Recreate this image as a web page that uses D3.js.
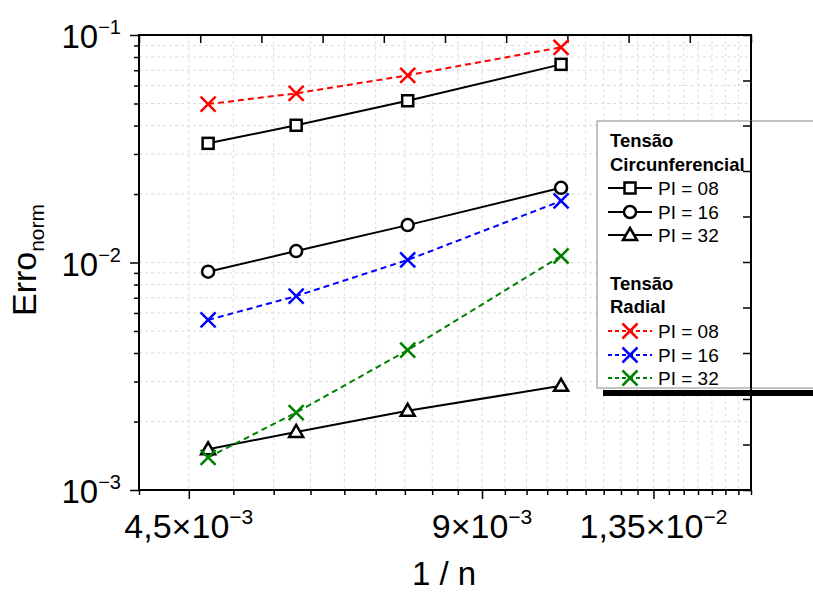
<!DOCTYPE html>
<html>
<head>
<meta charset="utf-8">
<script src="https://cdn.jsdelivr.net/npm/d3@7"></script>
<style>
  body { margin: 0; background: #fff; }
  svg { display: block; font-family: "Liberation Sans", Arial, sans-serif; }
</style>
</head>
<body>
<svg id="chart" width="813" height="592"></svg>
<script>
// data
const invN = [0.00471, 0.0058, 0.00755, 0.01085];

const circPI08 = [0.0334, 0.0401, 0.0514, 0.0743];
const circPI16 = [0.00911, 0.01123, 0.0146, 0.0213];
const circPI32 = [0.00151, 0.0018, 0.00223, 0.00287];

const radPI08 = [0.0497, 0.0554, 0.0665, 0.0883];
const radPI16 = [0.00559, 0.00712, 0.01026, 0.01864];
const radPI32 = [0.00139, 0.00219, 0.00412, 0.01068];

// tick labels
const xMajor = [0.0045, 0.009, 0.0135];
const xMajorLabels = [["4,5×10", "−3"], ["9×10", "−3"], ["1,35×10", "−2"]];
const yMajor = [0.001, 0.01, 0.1];
const yMajorLabels = [["10", "−3"], ["10", "−2"], ["10", "−1"]];

const series = [
  { name: "PI = 08", values: circPI08, color: "#000", dash: null, sym: "square" },
  { name: "PI = 16", values: circPI16, color: "#000", dash: null, sym: "circle" },
  { name: "PI = 32", values: circPI32, color: "#000", dash: null, sym: "triangle" },
  { name: "PI = 08", values: radPI08, color: "#ff0000", dash: "6,4", sym: "cross" },
  { name: "PI = 16", values: radPI16, color: "#0000ff", dash: "6,4", sym: "cross" },
  { name: "PI = 32", values: radPI32, color: "#008000", dash: "6,4", sym: "cross" }
];

const svg = d3.select("#chart");
const box = { left: 139, right: 751, top: 35, bottom: 490 };

const x = d3.scaleLog().domain([0.004, 0.017]).range([box.left, box.right]);
const y = d3.scaleLog().domain([0.001, 0.1]).range([box.bottom, box.top]);
// linked top/right axes (plain linear 0..10)
const xTop = d3.scaleLinear().domain([0, 10]).range([box.left, box.right]);
const yRight = d3.scaleLinear().domain([0, 10]).range([box.bottom, box.top]);

// minor tick positions
const xMinor = d3.range(4, 17.01, 0.5).map(v => v / 1000)
  .filter(v => !xMajor.some(m => Math.abs(m - v) < 1e-9));
const yMinor = [];
[0.001, 0.01].forEach(d => { for (let k = 2; k <= 9; k++) yMinor.push(d * k); });

// grid
const grid = svg.append("g").attr("stroke", "#dcdcdc").attr("stroke-width", 1)
  .attr("stroke-dasharray", "3,3");
grid.selectAll(".gx").data(xMinor.concat(xMajor)).join("line")
  .attr("x1", d => x(d)).attr("x2", d => x(d)).attr("y1", box.top).attr("y2", box.bottom);
grid.selectAll(".gy").data(yMinor.concat(yMajor)).join("line")
  .attr("y1", d => y(d)).attr("y2", d => y(d)).attr("x1", box.left).attr("x2", box.right);

// axes
const ax = svg.append("g");
ax.append("g").attr("transform", `translate(0,${box.bottom})`)
  .call(d3.axisBottom(x).tickValues(xMajor).tickSize(9).tickSizeOuter(0).tickFormat(""));
ax.append("g").attr("transform", `translate(0,${box.bottom})`)
  .call(d3.axisBottom(x).tickValues(xMinor).tickSize(5).tickSizeOuter(0).tickFormat(""));
ax.append("g").attr("transform", `translate(${box.left},0)`)
  .call(d3.axisLeft(y).tickValues(yMajor).tickSize(9).tickSizeOuter(0).tickFormat(""));
ax.append("g").attr("transform", `translate(${box.left},0)`)
  .call(d3.axisLeft(y).tickValues(yMinor).tickSize(5).tickSizeOuter(0).tickFormat(""));
ax.append("g").attr("transform", `translate(0,${box.top})`)
  .call(d3.axisBottom(xTop).ticks(10).tickSize(8).tickSizeOuter(0).tickFormat(""));
ax.append("g").attr("transform", `translate(${box.right},0)`)
  .call(d3.axisLeft(yRight).ticks(10).tickSize(8).tickSizeOuter(0).tickFormat(""));
ax.selectAll(".domain").remove();
ax.selectAll("line").attr("stroke", "#000").attr("stroke-width", 1.5);

// frame
svg.append("rect").attr("x", box.left).attr("y", box.top)
  .attr("width", box.right - box.left).attr("height", box.bottom - box.top)
  .attr("fill", "none").attr("stroke", "#000").attr("stroke-width", 2);

// tick labels
const xl = svg.append("g").attr("font-size", 34).attr("text-anchor", "middle");
xMajor.forEach((v, i) => {
  const t = xl.append("text").attr("x", x(v)).attr("y", 538);
  t.append("tspan").text(xMajorLabels[i][0]);
  t.append("tspan").attr("font-size", 21).attr("dy", -14).text(xMajorLabels[i][1]);
});
const yl = svg.append("g").attr("font-size", 33).attr("text-anchor", "end");
yMajor.forEach((v, i) => {
  const t = yl.append("text").attr("x", 121).attr("y", y(v) + 13);
  t.append("tspan").text(yMajorLabels[i][0]);
  t.append("tspan").attr("font-size", 20).attr("dy", -14).text(yMajorLabels[i][1]);
});

// axis titles
svg.append("text").attr("x", 444).attr("y", 585).attr("text-anchor", "middle")
  .attr("font-size", 33).text("1 / n");
const yt = svg.append("text").attr("transform", "translate(36,260) rotate(-90)")
  .attr("text-anchor", "middle").attr("font-size", 34);
yt.append("tspan").text("Erro");
yt.append("tspan").attr("font-size", 21).attr("dy", 8).text("norm");

// symbols
function drawSym(g, sym, cx, cy, color) {
  if (sym === "square") {
    g.append("rect").attr("x", cx - 5.5).attr("y", cy - 5.5).attr("width", 11).attr("height", 11)
      .attr("fill", "#fff").attr("stroke", color).attr("stroke-width", 2.5);
  } else if (sym === "circle") {
    g.append("circle").attr("cx", cx).attr("cy", cy).attr("r", 6)
      .attr("fill", "#fff").attr("stroke", color).attr("stroke-width", 2.5);
  } else if (sym === "triangle") {
    g.append("path").attr("d", `M${cx},${cy - 7}L${cx + 7},${cy + 5}L${cx - 7},${cy + 5}Z`)
      .attr("fill", "#fff").attr("stroke", color).attr("stroke-width", 2.5).attr("stroke-linejoin", "miter");
  } else {
    const s = 7.5;
    g.append("path").attr("d", `M${cx - s},${cy - s}L${cx + s},${cy + s}M${cx - s},${cy + s}L${cx + s},${cy - s}`)
      .attr("fill", "none").attr("stroke", color).attr("stroke-width", 2.5);
  }
}

const line = d3.line().x(d => x(d[0])).y(d => y(d[1]));
const plot = svg.append("g");
series.forEach(s => {
  const pts = invN.map((v, i) => [v, s.values[i]]);
  plot.append("path").datum(pts).attr("d", line).attr("fill", "none")
    .attr("stroke", s.color).attr("stroke-width", 2)
    .attr("stroke-dasharray", s.dash);
});
series.forEach(s => {
  const g = plot.append("g");
  invN.forEach((v, i) => drawSym(g, s.sym, x(v), y(s.values[i]), s.color));
});

// legend
const lg = svg.append("g");
lg.append("rect").attr("x", 597).attr("y", 121).attr("width", 230).attr("height", 267)
  .attr("fill", "#fff").attr("stroke", "#888").attr("stroke-width", 1);
// right axis shows through the legend
lg.append("line").attr("x1", box.right).attr("x2", box.right).attr("y1", 121).attr("y2", 388)
  .attr("stroke", "#000").attr("stroke-width", 2);
lg.selectAll(".rt").data(d3.range(1, 10).filter(d => yRight(d) > 121 && yRight(d) < 388)).join("line")
  .attr("x1", box.right - 8).attr("x2", box.right).attr("y1", d => yRight(d)).attr("y2", d => yRight(d))
  .attr("stroke", "#000").attr("stroke-width", 1.5);
lg.append("rect").attr("x", 603).attr("y", 390).attr("width", 215).attr("height", 6).attr("fill", "#000");

const headers = [["Tensão", 147], ["Circunferencial", 171], ["Tensão", 290], ["Radial", 313]];
headers.forEach(h => lg.append("text").attr("x", 610).attr("y", h[1])
  .attr("font-size", 18.5).attr("font-weight", "bold").text(h[0]));
const rowY = [188, 212, 235, 331, 355, 378];
series.forEach((s, i) => {
  const cy = rowY[i];
  lg.append("line").attr("x1", 608).attr("x2", 652).attr("y1", cy).attr("y2", cy)
    .attr("stroke", s.color).attr("stroke-width", 2).attr("stroke-dasharray", s.dash ? "4,3" : null);
  drawSym(lg, s.sym, 630, cy, s.color);
  lg.append("text").attr("x", 658).attr("y", cy + 7).attr("font-size", 19).text(s.name);
});
</script>
</body>
</html>
